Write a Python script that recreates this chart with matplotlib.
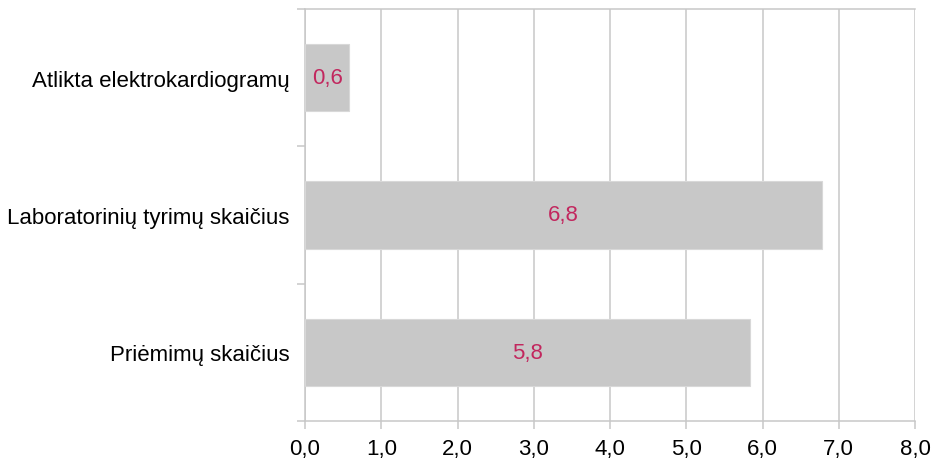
import matplotlib
matplotlib.use("Agg")
import matplotlib.pyplot as plt
import numpy as np

categories = ["Atlikta elektrokardiogramų", "Laboratorinių tyrimų skaičius", "Priėmimų skaičius"]
values = [0.58, 6.78, 5.84]
xticks = [0, 1, 2, 3, 4, 5, 6, 7, 8]

plt.rcParams['font.family'] = ['Liberation Sans', 'DejaVu Sans']
fs = 16
grid_c = "#C8C8C8"
bar_c = "#C8C8C8"
lab_c = "#C2275E"
lw = 1.1

fig = plt.figure(figsize=(9.34, 4.64), dpi=100)
ax = fig.add_axes([305/934, 1-422/464, (915-305)/934, (422-10)/464])

y = np.arange(len(categories))[::-1]
ax.barh(y, values, height=0.49, color=bar_c, edgecolor="#D8D8D8", linewidth=0.8, zorder=3)
for yi, v in zip(y, values):
    ax.text(v/2, yi, f"{v:.1f}".replace(".", ","), ha="center", va="center",
            color=lab_c, fontsize=fs, zorder=4)

ax.set_xlim(0, 8)
ax.set_ylim(-0.5, len(categories)-0.5)
ax.set_xticks(xticks)
ax.set_xticklabels([f"{t:.1f}".replace(".", ",") for t in xticks], fontsize=fs)
ax.set_yticks(y)
ax.set_yticklabels(categories, fontsize=fs)
ax.set_yticks(np.arange(-0.5, len(categories), 1.0), minor=True)
ax.tick_params(axis="y", which="major", length=0, pad=11)
ax.tick_params(axis="y", which="minor", length=6, color=grid_c, width=lw)
ax.tick_params(axis="x", length=6, color=grid_c, width=lw, pad=6)
ax.xaxis.grid(True, color=grid_c, linewidth=lw, zorder=0)
ax.set_axisbelow(True)
for s in ["left", "bottom", "top"]:
    ax.spines[s].set_color(grid_c)
    ax.spines[s].set_linewidth(lw)
ax.spines["right"].set_visible(False)

fig.savefig("out.png", dpi=100)
